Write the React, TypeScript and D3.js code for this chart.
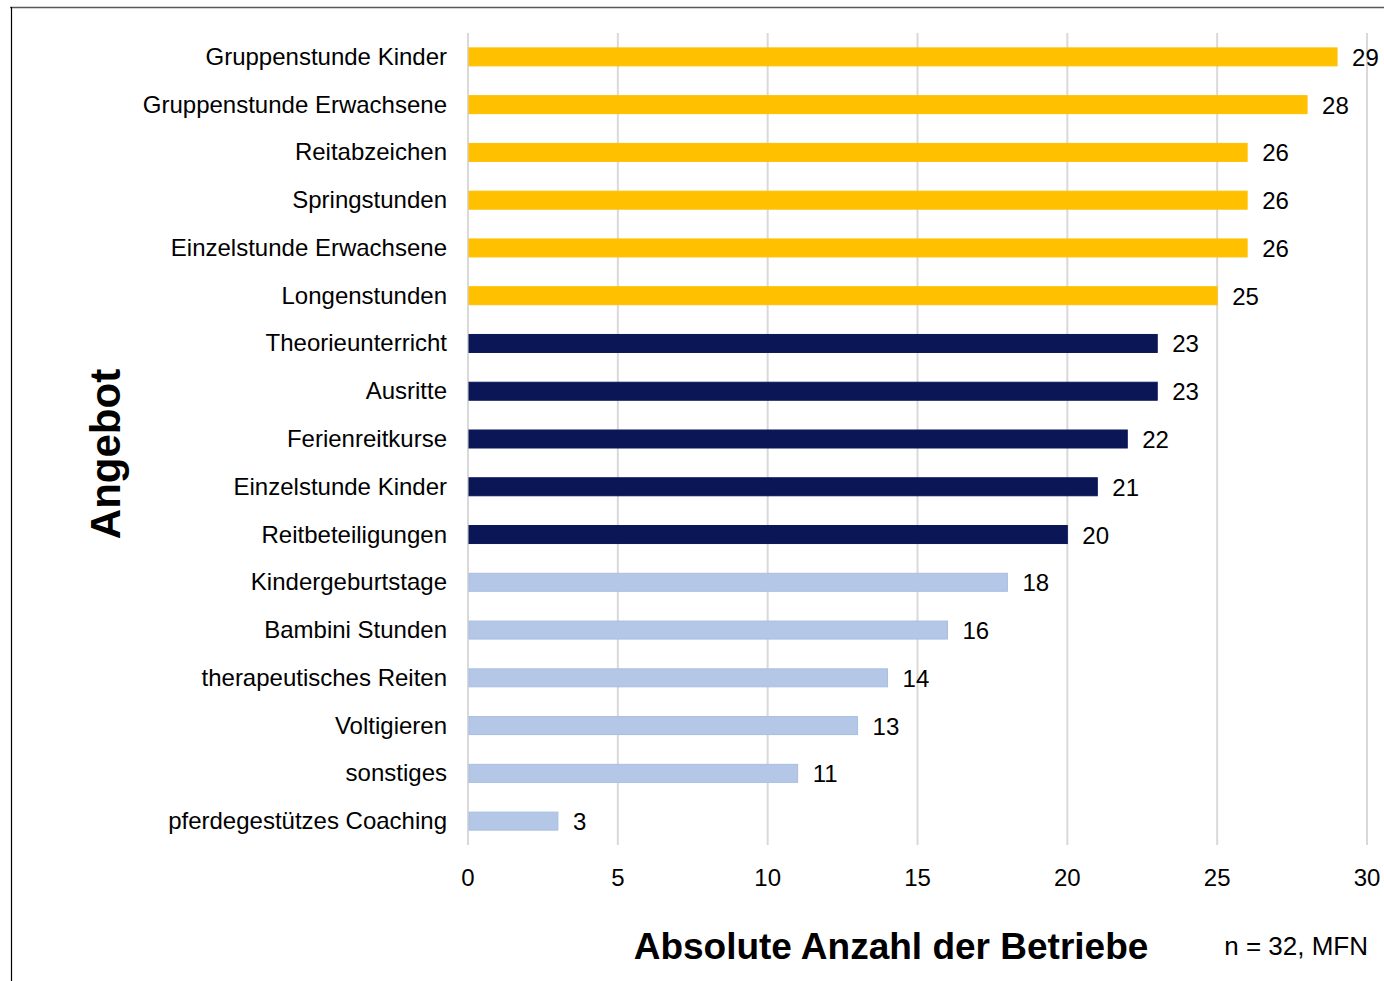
import React, { useRef, useEffect } from 'react';
import * as d3 from 'd3';

const CATEGORIES = [
  'Gruppenstunde Kinder',
  'Gruppenstunde Erwachsene',
  'Reitabzeichen',
  'Springstunden',
  'Einzelstunde Erwachsene',
  'Longenstunden',
  'Theorieunterricht',
  'Ausritte',
  'Ferienreitkurse',
  'Einzelstunde Kinder',
  'Reitbeteiligungen',
  'Kindergeburtstage',
  'Bambini Stunden',
  'therapeutisches Reiten',
  'Voltigieren',
  'sonstiges',
  'pferdegestützes Coaching',
];
const VALUES = [29, 28, 26, 26, 26, 25, 23, 23, 22, 21, 20, 18, 16, 14, 13, 11, 3];
// group per bar: 0 = yellow, 1 = navy, 2 = light blue
const GROUPS = [0, 0, 0, 0, 0, 0, 1, 1, 1, 1, 1, 2, 2, 2, 2, 2, 2];
const X_TICKS = [0, 5, 10, 15, 20, 25, 30];

const FILLS = ['#FFC000', '#0B1657', '#B4C7E7'];
const STROKES = ['#FFC000', '#0B1657', '#A9BEE3'];

const FONT = 'Liberation Sans, Arial, sans-serif';

export default function App() {
  const svgRef = useRef<SVGSVGElement>(null);

  useEffect(() => {
    document.body.style.margin = '0';
    const width = 1384;
    const height = 981;
    const margin = { top: 33, left: 468, right: 17, bottom: 136 };

    const svg = d3.select(svgRef.current).attr('width', width).attr('height', height);
    svg.selectAll('*').remove();

    svg.append('rect').attr('width', width).attr('height', height).attr('fill', '#fff');

    // outer frame
    svg.append('line').attr('x1', 10).attr('x2', width).attr('y1', 7.5).attr('y2', 7.5)
      .attr('stroke', '#595959').attr('stroke-width', 1.5);
    svg.append('line').attr('x1', 11.5).attr('x2', 11.5).attr('y1', 7).attr('y2', height)
      .attr('stroke', '#000').attr('stroke-width', 1.2);

    const x = d3.scaleLinear().domain([0, 30]).range([margin.left, width - margin.right]);
    const y = d3.scaleBand().domain(CATEGORIES).range([margin.top, height - margin.bottom]).padding(0);
    const barH = 18;

    // gridlines
    svg.append('g')
      .selectAll('line')
      .data(X_TICKS)
      .join('line')
      .attr('x1', (d) => x(d))
      .attr('x2', (d) => x(d))
      .attr('y1', margin.top)
      .attr('y2', height - margin.bottom)
      .attr('stroke', '#D9D9D9')
      .attr('stroke-width', 2);

    // tick labels
    svg.append('g')
      .selectAll('text')
      .data(X_TICKS)
      .join('text')
      .attr('x', (d) => x(d))
      .attr('y', 886)
      .attr('text-anchor', 'middle')
      .attr('font-family', FONT)
      .attr('font-size', 24)
      .attr('fill', '#000')
      .text((d) => d);

    const rows = CATEGORIES.map((c, i) => ({ c, v: VALUES[i], g: GROUPS[i] }));

    // bars
    svg.append('g')
      .selectAll('rect')
      .data(rows)
      .join('rect')
      .attr('x', x(0) + 1)
      .attr('y', (d) => (y(d.c) as number) + y.bandwidth() / 2 - barH / 2)
      .attr('width', (d) => x(d.v) - x(0) - 1)
      .attr('height', barH)
      .attr('fill', (d) => FILLS[d.g])
      .attr('stroke', (d) => STROKES[d.g])
      .attr('stroke-width', 1);

    // value labels
    svg.append('g')
      .selectAll('text')
      .data(rows)
      .join('text')
      .attr('x', (d) => x(d.v) + 15)
      .attr('y', (d) => (y(d.c) as number) + y.bandwidth() / 2 + 9)
      .attr('font-family', FONT)
      .attr('font-size', 24)
      .attr('fill', '#000')
      .text((d) => d.v);

    // category labels
    svg.append('g')
      .selectAll('text')
      .data(rows)
      .join('text')
      .attr('x', 447)
      .attr('y', (d) => (y(d.c) as number) + y.bandwidth() / 2 + 8)
      .attr('text-anchor', 'end')
      .attr('font-family', FONT)
      .attr('font-size', 24)
      .attr('fill', '#000')
      .text((d) => d.c);

    // axis titles
    svg.append('text')
      .attr('transform', 'translate(120,454) rotate(-90)')
      .attr('text-anchor', 'middle')
      .attr('font-family', FONT)
      .attr('font-size', 42)
      .attr('font-weight', 'bold')
      .text('Angebot');

    svg.append('text')
      .attr('x', 891)
      .attr('y', 959)
      .attr('text-anchor', 'middle')
      .attr('font-family', FONT)
      .attr('font-size', 37)
      .attr('font-weight', 'bold')
      .text('Absolute Anzahl der Betriebe');

    svg.append('text')
      .attr('x', 1368)
      .attr('y', 955)
      .attr('text-anchor', 'end')
      .attr('font-family', FONT)
      .attr('font-size', 26)
      .text('n = 32, MFN');
  }, []);

  return <svg ref={svgRef} style={{ display: 'block' }} />;
}
